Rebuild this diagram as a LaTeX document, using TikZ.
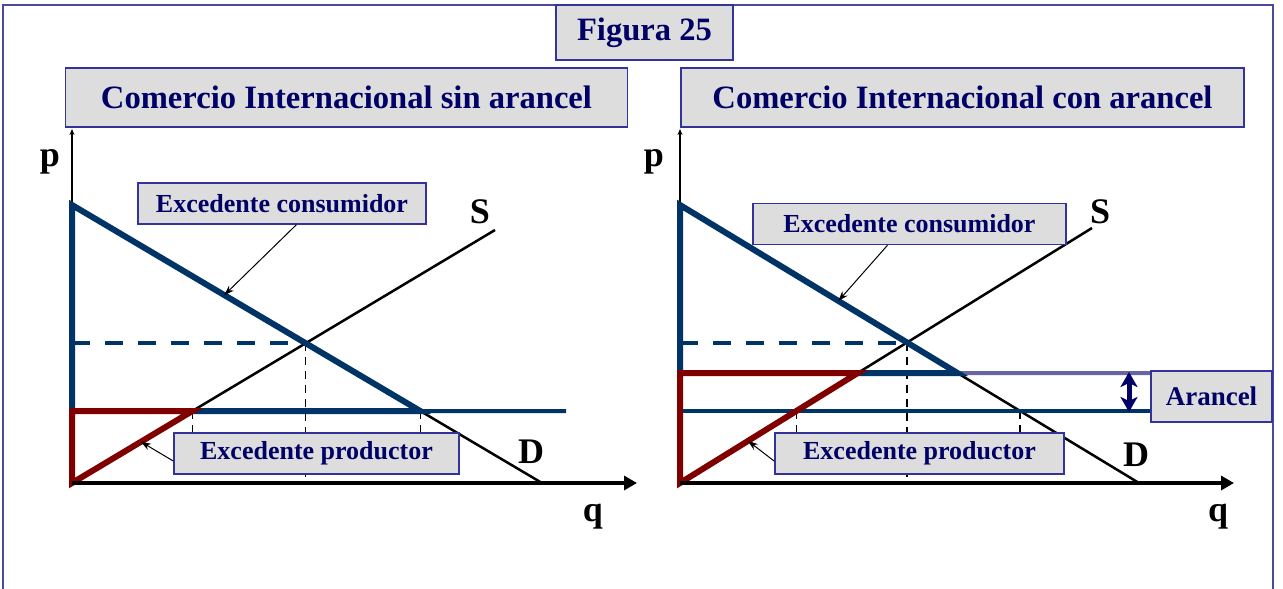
\documentclass[tikz,border=0pt]{standalone}
\usepackage{fontspec}
\setmainfont{Liberation Serif}
\usetikzlibrary{arrows.meta,calc}
\definecolor{boxgray}{HTML}{DDDDDD}
\definecolor{boxline}{HTML}{333399}
\definecolor{navy}{HTML}{000066}
\definecolor{curveblue}{HTML}{003366}
\definecolor{surplusred}{HTML}{800000}
\definecolor{tarifflav}{HTML}{6666A0}
\definecolor{framelav}{HTML}{4B4B9B}

\begin{document}
\begin{tikzpicture}[x=1pt, y=-1pt, >=Stealth,
    every node/.style={inner sep=0pt, font=\bfseries},
    labelbox/.style={draw=boxline, fill=boxgray, line width=1.5pt, text=navy},
    titlebox/.style={labelbox, minimum height=59pt, font=\bfseries\fontsize{32.6}{36}\selectfont},
    notebox/.style={labelbox, minimum height=41pt, font=\bfseries\fontsize{26}{29}\selectfont},
    axislabel/.style={font=\bfseries\fontsize{36}{40}\selectfont},
    qaxis/.style={line width=4pt, -{Triangle[length=13pt,width=14pt]}},
    paxis/.style={line width=2pt, -{Stealth[length=6pt,width=5pt]}},
    curve/.style={line width=2.5pt},
    thickblue/.style={draw=curveblue, line width=6pt, line join=miter},
    thickred/.style={draw=surplusred, line width=6pt, line join=miter},
    worldline/.style={draw=curveblue, line width=4pt},
    pricedash/.style={draw=curveblue, line width=4pt, dash pattern=on 18pt off 15pt},
    guide/.style={line width=1.5pt, dash pattern=on 8pt off 6pt},
    callout/.style={line width=1pt, -{Stealth[length=10pt,width=7pt]}},
    tariffgap/.style={navy, line width=5pt, {Stealth[length=15pt,width=17pt,inset=4pt]}-{Stealth[length=15pt,width=17pt,inset=4pt]}}]
    \useasboundingbox (0,0) rectangle (1283,589);
    \clip (0,0) rectangle (1283,589);
    \draw[framelav, line width=2pt] (3,5) rectangle (1273,620);

    % left panel: sin arancel
    \coordinate (oL) at (72,483);
    \coordinate (yL) at (72,129);
    \coordinate (xL) at (637,483);
    \coordinate (dLa) at (72,205);
    \coordinate (dLb) at (542,483);
    \coordinate (sLb) at (495,230);
    \coordinate (wLa) at (72,411);
    \coordinate (wLb) at (566,411);
    \coordinate (eqL) at (intersection of dLa--dLb and oL--sLb);
    \coordinate (wdL) at (intersection of dLa--dLb and wLa--wLb);
    \coordinate (wsL) at (intersection of oL--sLb and wLa--wLb);
    \draw[guide] (wsL) -- (wsL |- oL);
    \draw[guide] (eqL) -- (eqL |- oL);
    \draw[guide] (wdL) -- (wdL |- oL);
    \draw[paxis] (oL) -- (yL);
    \draw[curve] (oL) -- (sLb);
    \draw[curve] (wdL) -- (dLb);
    \draw[worldline] (wdL) -- (wLb);
    \draw[pricedash] (eqL -| oL) -- (eqL);
    \draw[thickblue] (wsL) -- (wdL) -- (dLa) -- (wLa);
    \draw[thickred] (wLa) -- (wsL) -- (oL) -- cycle;
    \draw[qaxis] (oL) -- (xL);
    \node[axislabel] (pL) at (50,162) {p};
    \node[axislabel] (qL) at (593,517) {q};
    \node[axislabel] (sL) at (480,212) {S};
    \node[axislabel] (dL) at (531,452) {D};

    % right panel: con arancel
    \coordinate (oR) at (680,483);
    \coordinate (yR) at (680,129);
    \coordinate (xR) at (1234,483);
    \coordinate (dRa) at (680,205);
    \coordinate (dRb) at (1139,483);
    \coordinate (sRb) at (1092,228);
    \coordinate (tRa) at (680,373);
    \coordinate (tRb) at (1151,373);
    \coordinate (wRa) at (680,411);
    \coordinate (wRb) at (1151,411);
    \coordinate (eqR) at (intersection of dRa--dRb and oR--sRb);
    \coordinate (tdR) at (intersection of dRa--dRb and tRa--tRb);
    \coordinate (tsR) at (intersection of oR--sRb and tRa--tRb);
    \coordinate (wdR) at (intersection of dRa--dRb and wRa--wRb);
    \coordinate (wsR) at (intersection of oR--sRb and wRa--wRb);
    \coordinate (tarTop) at (1129,372);
    \coordinate (tarBot) at (1129,412);
    \draw[guide] (wsR) -- (wsR |- oR);
    \draw[guide] (eqR) -- (eqR |- oR);
    \draw[guide] (wdR) -- (wdR |- oR);
    \draw[paxis] (oR) -- (yR);
    \draw[curve] (oR) -- (sRb);
    \draw[curve] (tdR) -- (dRb);
    \draw[worldline] (wRa) -- (wRb);
    \draw[tarifflav, line width=4pt] (tdR) -- (tRb);
    \draw[pricedash] (eqR -| oR) -- (eqR);
    \draw[thickblue] (tsR) -- (tdR) -- (dRa) -- (tRa);
    \draw[thickred] (tRa) -- (tsR) -- (oR) -- cycle;
    \draw[qaxis] (oR) -- (xR);
    \draw[tariffgap] (tarTop) -- (tarBot);
    \node[axislabel] (pR) at (654,162) {p};
    \node[axislabel] (qR) at (1218,517) {q};
    \node[axislabel] (sR) at (1100,212) {S};
    \node[axislabel] (dR) at (1136,455) {D};

    % boxes
    \node[titlebox, minimum width=177pt, minimum height=55pt] (fig) at (644.5,32.5) {Figura 25};
    \node[titlebox, minimum width=562pt] (titleL) at (346.5,97.5) {Comercio Internacional sin arancel};
    \node[titlebox, minimum width=563pt] (titleR) at (962.5,97.5) {Comercio Internacional con arancel};
    \node[notebox, minimum width=288pt] (csL) at (282,203.5) {Excedente consumidor};
    \node[notebox, minimum width=285pt] (psL) at (316.5,453.5) {Excedente productor};
    \node[notebox, minimum width=313pt] (csR) at (909.5,224) {Excedente consumidor};
    \node[notebox, minimum width=289pt] (psR) at (919.5,453.5) {Excedente productor};
    \node[labelbox, minimum width=121pt, minimum height=51pt, font=\bfseries\fontsize{27}{30}\selectfont] (arR) at (1211.5,396.5) {Arancel};

    % callouts
    \coordinate (csLtip) at ($(dLa)!0.324!(dLb)$);
    \coordinate (psLtip) at ($(oL)!0.163!(sLb)$);
    \coordinate (csRtip) at ($(dRa)!0.345!(dRb)$);
    \coordinate (psRtip) at ($(oR)!0.165!(sRb)$);
    \draw[callout] (csL.-56) -- (csLtip);
    \draw[callout] (psL.183) -- (psLtip);
    \draw[callout] (csR.-136) -- (csRtip);
    \draw[callout] (psR.183) -- (psRtip);
\end{tikzpicture}
\end{document}
